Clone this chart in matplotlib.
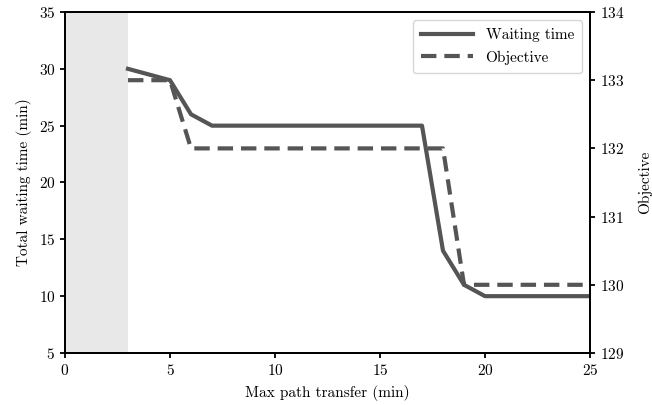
import matplotlib
matplotlib.use("Agg")
import matplotlib.pyplot as plt

plt.rcParams["font.family"] = ["cmr10", "DejaVu Sans"]
plt.rcParams["axes.formatter.use_mathtext"] = True
plt.rcParams["font.size"] = 11
plt.rcParams["axes.linewidth"] = 1.3
plt.rcParams["xtick.major.width"] = 1.3
plt.rcParams["ytick.major.width"] = 1.3

transfer = [3, 4, 5, 6, 7, 8, 9, 10, 11, 12, 13, 14, 15, 16, 17, 18, 19, 20, 21, 22, 23, 24, 25]
waiting = [30, 29.5, 29, 26, 25, 25, 25, 25, 25, 25, 25, 25, 25, 25, 25, 14, 11, 10, 10, 10, 10, 10, 10]
objective = [133, 133, 133, 132, 132, 132, 132, 132, 132, 132, 132, 132, 132, 132, 132, 132, 130, 130, 130, 130, 130, 130, 130]
shade_end = 3

color = "#555555"
fig, ax = plt.subplots(figsize=(6.52, 4.05), dpi=100)
fig.subplots_adjust(left=65 / 652, right=590 / 652, top=1 - 12 / 405, bottom=1 - 353 / 405)
ax.axvspan(0, shade_end, color="#e8e8e8", lw=0, zorder=0)
l1, = ax.plot(transfer, waiting, color=color, lw=3, label="Waiting time")
ax.set_xlim(0, 25)
ax.set_ylim(5, 35)
ax.set_xlabel("Max path transfer (min)", labelpad=5)
ax.set_ylabel("Total waiting time (min)", labelpad=5)

ax2 = ax.twinx()
l2, = ax2.plot(transfer, objective, color=color, lw=3, ls=(0, (3.7, 1.9)), label="Objective")
ax2.set_ylim(129, 134)
ax2.set_ylabel("Objective", labelpad=10)

ax2.legend(handles=[l1, l2], loc="upper right", fontsize=11, handlelength=3.4,
           labelspacing=0.55, borderpad=0.55)
fig.savefig("out.png", dpi=100)
